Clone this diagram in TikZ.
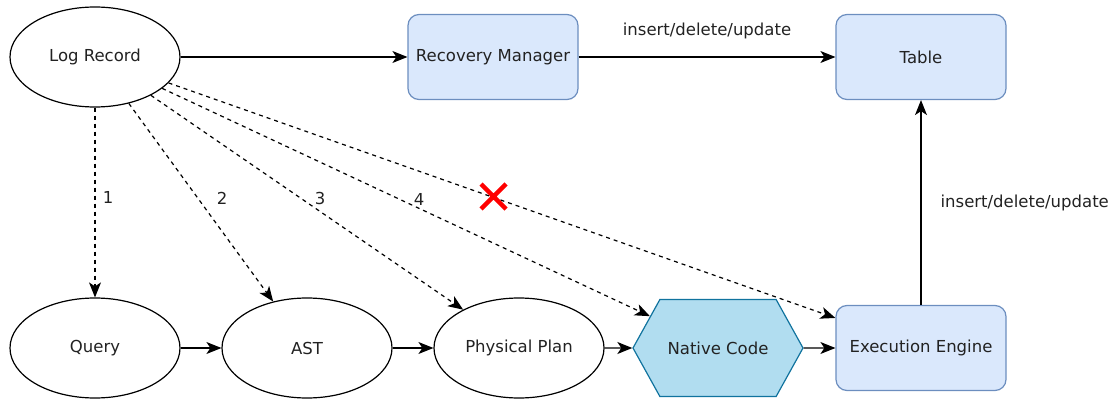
\documentclass[tikz,border=0pt]{standalone}
\usepackage{fontspec}
\setmainfont{DejaVu Sans}
\usetikzlibrary{shapes.geometric,shapes.symbols,arrows.meta}

\definecolor{boxfill}{HTML}{DAE8FC}
\definecolor{boxline}{HTML}{6C8EBF}
\definecolor{hexfill}{HTML}{B1DDF0}
\definecolor{hexline}{HTML}{10739E}
\definecolor{txt}{HTML}{222222}

\begin{document}
\begin{tikzpicture}[x=1pt,y=-1pt,
  font=\fontsize{16.5}{19}\selectfont,
  oval/.style={ellipse, draw=black, line width=1.2pt, minimum width=170pt,
    minimum height=100pt, inner sep=0pt, text=txt},
  box/.style={rectangle, rounded corners=11pt, draw=boxline, fill=boxfill,
    line width=1.2pt, minimum width=170pt, minimum height=85pt, text=txt},
  hexa/.style={signal, signal from=nowhere, signal to=east and west,
    signal pointer angle=122, draw=hexline, fill=hexfill, line width=1.2pt,
    minimum width=170pt, minimum height=97pt, inner sep=0pt, text=txt},
  link/.style={line width=1.2pt, -{Stealth[length=15pt,width=12pt,inset=4pt]}},
  dlink/.style={link, dash pattern=on 4pt off 4pt},
  lbl/.style={text=txt, inner sep=0pt}]

\useasboundingbox (0,0) rectangle (1117,401);

% top row
\node[oval] (lr) at (95,57) {Log Record};
\node[box] (rm) at (493,57) {Recovery Manager};
\node[box] (tab) at (921,57) {Table};

% bottom row: query compilation pipeline
\node[oval] (q) at (95,348) {Query};
\node[oval] (ast) at (307,348) {AST};
\node[oval] (pp) at (519,348) {Physical Plan};
\node[hexa] (nc) at (718,348) {Native Code};
\node[box] (ee) at (921,348) {Execution Engine};

% solid flow
\draw[link] (lr) -- (rm);
\draw[link] (rm) -- node[lbl, yshift=26pt] {insert/delete/update} (tab);
\draw[link] (ee) -- node[lbl, anchor=west, xshift=19pt] {insert/delete/update} (tab);
\draw[link] (q) -- (ast);
\draw[link] (ast) -- (pp);
\draw[link] (pp) -- (nc);
\draw[link] (nc) -- (ee);

% replay paths from the log record
\draw[dlink] (lr) -- (q);
\draw[dlink] (lr) -- (ast);
\draw[dlink] (lr) -- (pp);
\draw[dlink] (lr) -- (nc);
\draw[dlink] (lr) -- (ee);

\node[lbl] (n1) at (108,197) {1};
\node[lbl] (n2) at (222,198) {2};
\node[lbl] (n3) at (320,198) {3};
\node[lbl] (n4) at (419,199) {4};

% rejected path
\draw[red, line width=4.5pt] (481,184) -- (506,209) (506,184) -- (481,209);
\end{tikzpicture}
\end{document}
